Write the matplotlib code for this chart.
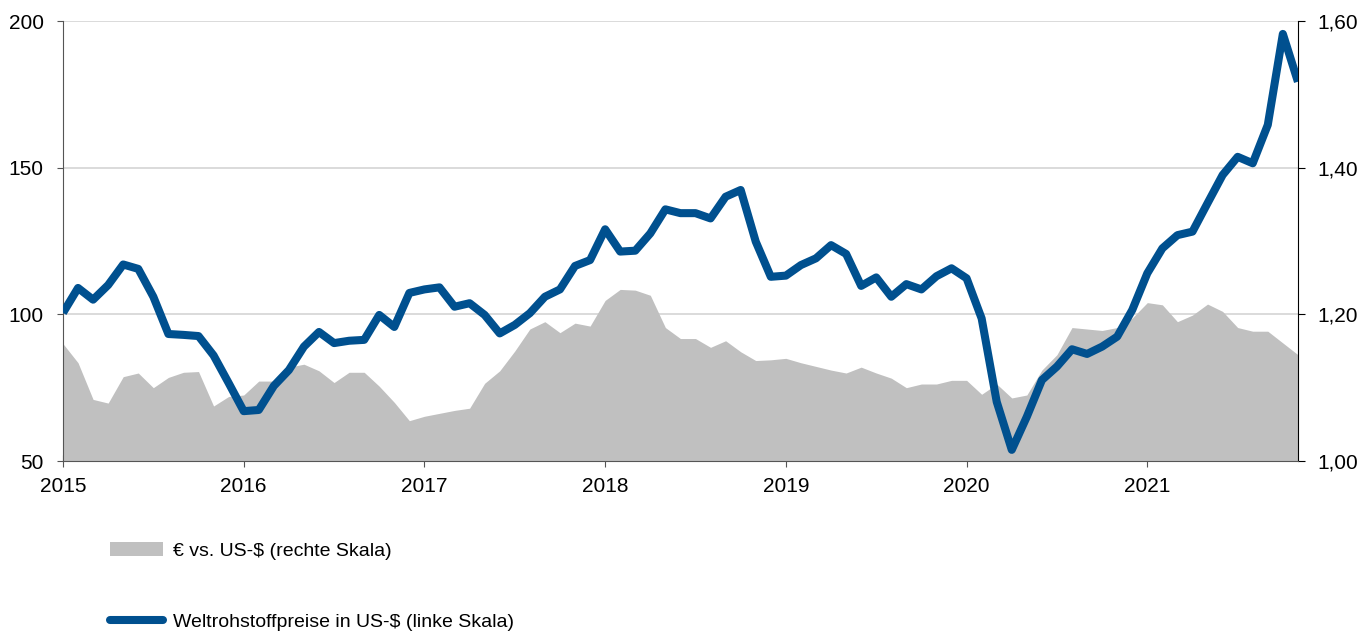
import matplotlib
matplotlib.use('Agg')
import matplotlib.pyplot as plt
from matplotlib.lines import Line2D
from matplotlib.patches import Patch
from matplotlib.ticker import FuncFormatter
import numpy as np

plt.rcParams['font.family'] = ['Liberation Sans', 'DejaVu Sans']

# monatliche Werte, Jan 2015 bis Nov 2021
years = ['2015', '2016', '2017', '2018', '2019', '2020', '2021']

rohstoffe = [100.5, 109, 105, 110, 117, 115.5, 106, 93.3, 93, 92.6, 86, 76.6,
             67, 67.4, 75.6, 81, 89, 94, 90.2, 91, 91.3, 99.8, 95.7, 107.3,
             108.5, 109.2, 102.6, 103.8, 99.8, 93.5, 96.4, 100.4, 106, 108.5, 116.5, 118.5,
             129, 121.4, 121.7, 127.6, 135.8, 134.5, 134.5, 132.7, 140.1, 142.4, 124.8, 112.8,
             113.2, 116.8, 119.1, 123.6, 120.6, 109.7, 112.6, 106, 110.3, 108.5, 113, 115.7,
             112.3, 98.6, 70.2, 53.8, 65.1, 77.6, 82.2, 88.1, 86.5, 89, 92.4, 101.5,
             114, 122.5, 127, 128.2, 137.9, 147.5, 153.7, 151.5, 164.6, 195.6, 179.3]

eur_usd = [1.160, 1.134, 1.084, 1.079, 1.115, 1.120, 1.100, 1.114, 1.121, 1.122, 1.075, 1.088,
           1.090, 1.109, 1.109, 1.128, 1.132, 1.123, 1.107, 1.121, 1.121, 1.102, 1.080, 1.055,
           1.061, 1.065, 1.069, 1.072, 1.106, 1.123, 1.150, 1.180, 1.190, 1.175, 1.188, 1.184,
           1.219, 1.234, 1.233, 1.226, 1.182, 1.167, 1.167, 1.155, 1.164, 1.149, 1.137, 1.138,
           1.140, 1.134, 1.129, 1.124, 1.120, 1.128, 1.120, 1.113, 1.100, 1.105, 1.105, 1.110,
           1.110, 1.091, 1.105, 1.086, 1.090, 1.124, 1.145, 1.182, 1.180, 1.178, 1.182, 1.195,
           1.216, 1.213, 1.190, 1.199, 1.214, 1.204, 1.182, 1.177, 1.177, 1.161, 1.145]

months = np.arange(len(rohstoffe))
blue = '#00508f'
grey = '#c0c0c0'

fig = plt.figure(figsize=(13.72, 6.33), dpi=100)
ax2 = fig.add_axes([0.0459, 0.2717, 0.9001, 0.6951])
ax = ax2.twinx()
ax.set_zorder(2)
ax2.set_zorder(1)
ax.patch.set_visible(False)

# Flaeche: Euro vs. Dollar (rechte Skala)
ax2.fill_between(months, 1.0, eur_usd, color=grey, lw=0, zorder=2)
ax2.set_ylim(1.0, 1.6)
ax2.set_yticks([1.0, 1.2, 1.4, 1.6])
ax2.yaxis.tick_right()
ax2.yaxis.set_major_formatter(FuncFormatter(lambda v, p: f'{v:.2f}'.replace('.', ',')))
ax2.grid(axis='y', color='#d4d4d4', lw=1.2, zorder=0)
ax2.set_axisbelow(True)

# Linie: Rohstoffpreise (linke Skala)
ax.plot(months, rohstoffe, color=blue, lw=5.8, solid_joinstyle='round',
        solid_capstyle='butt', zorder=3)
ax.set_ylim(50, 200)
ax.set_yticks([50, 100, 150, 200])
ax.yaxis.tick_left()

ax.set_xlim(0, len(rohstoffe) - 1)
ax2.set_xticks(np.arange(len(years)) * 12)
ax2.set_xticklabels(years)

for a in (ax, ax2):
    for s in a.spines.values():
        s.set_visible(False)
ax.spines['left'].set_visible(True)
ax.spines['left'].set_color('#555555')
ax2.spines['right'].set_visible(True)
ax2.spines['right'].set_color('black')
ax2.spines['bottom'].set_visible(True)
ax2.spines['bottom'].set_color('#555555')
ax2.spines['bottom'].set_zorder(5)

ax.tick_params(axis='y', labelsize=15, length=4, color='#555555', pad=10)
ax2.tick_params(axis='y', labelsize=15, length=5, color='black', pad=9,
                left=False, labelleft=False)
ax2.tick_params(axis='x', labelsize=15, direction='inout', length=8.6,
                color='#555555', pad=7.5)
ax.tick_params(axis='x', bottom=False, labelbottom=False)

handles = [Patch(facecolor=grey, edgecolor='none'),
           Line2D([0], [0], color=blue, lw=5.8, solid_capstyle='round')]
labels = ['€ vs. US-$ (rechte Skala)', 'Weltrohstoffpreise in US-$ (linke Skala)']
fig.legend(handles, labels, loc='upper left', bbox_to_anchor=(0.0731, 0.1584),
           frameon=False, fontsize=14, handlelength=2.73, handleheight=0.7,
           labelspacing=2.73, handletextpad=0.5, borderpad=0)

fig.savefig('out.png', dpi=100)
